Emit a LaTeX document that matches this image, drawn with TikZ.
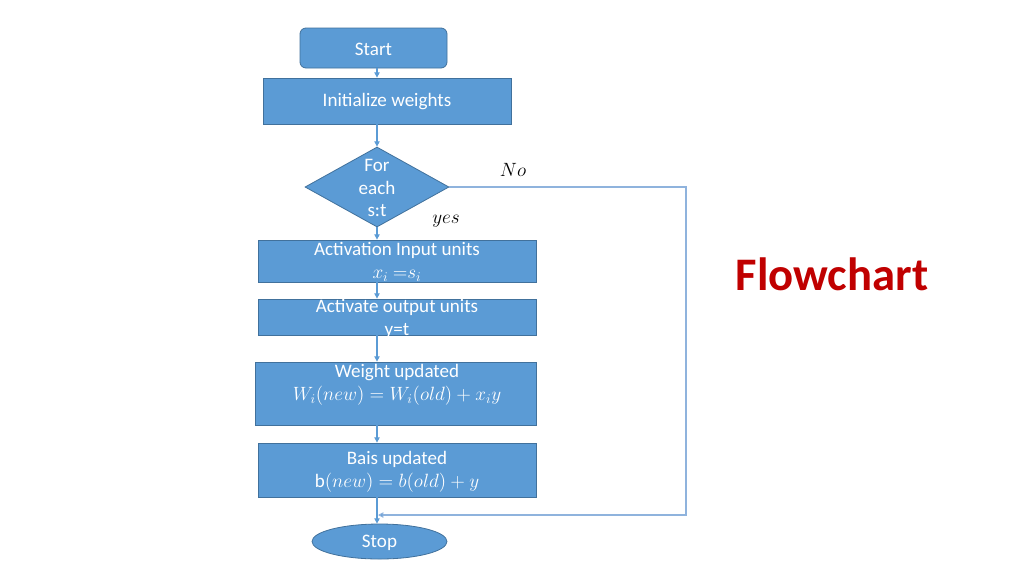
\documentclass[tikz,border=0pt]{standalone}
\usepackage{fontspec}
\setmainfont{Carlito}
\usetikzlibrary{shapes.geometric,arrows.meta}
\definecolor{boxfill}{HTML}{5B9BD5}
\definecolor{boxline}{HTML}{41719C}
\definecolor{loopline}{HTML}{8FB3DD}
\definecolor{titlered}{HTML}{C00000}
\begin{document}
\begin{tikzpicture}[x=0.75pt,y=-0.75pt,
  box/.style={draw=boxline,fill=boxfill,line width=0.6pt,inner sep=0pt},
  txt/.style={text=white,font=\fontsize{14.3}{17}\selectfont,align=center,inner sep=0pt},
  arr/.style={draw=boxfill,line width=0.8pt,-{Triangle[length=4pt,width=4pt]}},
  looparr/.style={draw=loopline,line width=0.8pt,-{Triangle[length=4pt,width=4pt,fill=boxfill]}},
  lbl/.style={font=\fontsize{14.3}{17}\selectfont,inner sep=0pt}]
\useasboundingbox (0,0) rectangle (1024,576);
\fill[white] (0,0) rectangle (1024,576);
% nodes
\node[box,rounded corners=4.5pt,minimum width=110.25pt,minimum height=30pt] (start) at (373.5,48) {};
\node[txt] (starttxt) at (373.5,49) {Start};
\node[box,minimum width=186pt,minimum height=34.5pt] (init) at (387,101) {};
\node[txt] (inittxt) at (387,102) {Initialize weights};
\node[box,diamond,minimum width=108pt,minimum height=60pt] (dia) at (377,187) {};
\node[txt] (diatxt) at (377,188) {For\\each\\s:t};
\node[box,minimum width=208.5pt,minimum height=31.5pt] (act) at (397,261) {};
\node[txt] (acttxt) at (397,262) {Activation Input units\\$x_i$ $=$$s_i$};
\node[box,minimum width=208.5pt,minimum height=27pt] (out) at (397,317) {};
\node[txt] (outtxt) at (397,319) {Activate output units\\y=t};
\node[box,minimum width=210.75pt,minimum height=47.25pt] (wt) at (395.5,393.5) {};
\node[txt] (wttxt) at (397,385) {Weight updated\\$W_i(\mathnormal{new})=W_i(\mathnormal{old})+x_iy$};
\node[box,minimum width=208.5pt,minimum height=40.5pt] (bais) at (397,470) {};
\node[txt] (baistxt) at (397,472) {Bais updated\\b$(\mathnormal{new})=b(\mathnormal{old})+y$};
\node[box,ellipse,minimum width=101.25pt,minimum height=26.25pt] (stop) at (379.5,541.5) {};
\node[txt] (stoptxt) at (379.5,542.5) {Stop};
\node[lbl] (no) at (513,170) {$\mathnormal{No}$};
\node[lbl] (yes) at (446,221) {$\mathnormal{yes}$};
\node[font=\fontsize{35}{40}\selectfont\bfseries,text=titlered,inner sep=0pt] (title) at (832,274) {Flowchart};
% connectors
\coordinate (c1) at (686,187);
\coordinate (c2) at (686,515);
\coordinate (j) at (378,515);
\draw[arr] (start.south -| dia.center) -- (init.north -| dia.center);
\draw[arr] (init.south -| dia.center) -- (dia.north);
\draw[arr] (dia.south) -- (act.north -| dia.center);
\draw[arr] (act.south -| dia.center) -- (out.north -| dia.center);
\draw[arr] (out.south -| dia.center) -- (wt.north -| dia.center);
\draw[arr] (wt.south -| dia.center) -- (bais.north -| dia.center);
\draw[arr] (bais.south -| dia.center) -- (stop.north -| dia.center);
\draw[looparr] (dia.east) -- (c1) -- (c2) -- (j);
\end{tikzpicture}
\end{document}
